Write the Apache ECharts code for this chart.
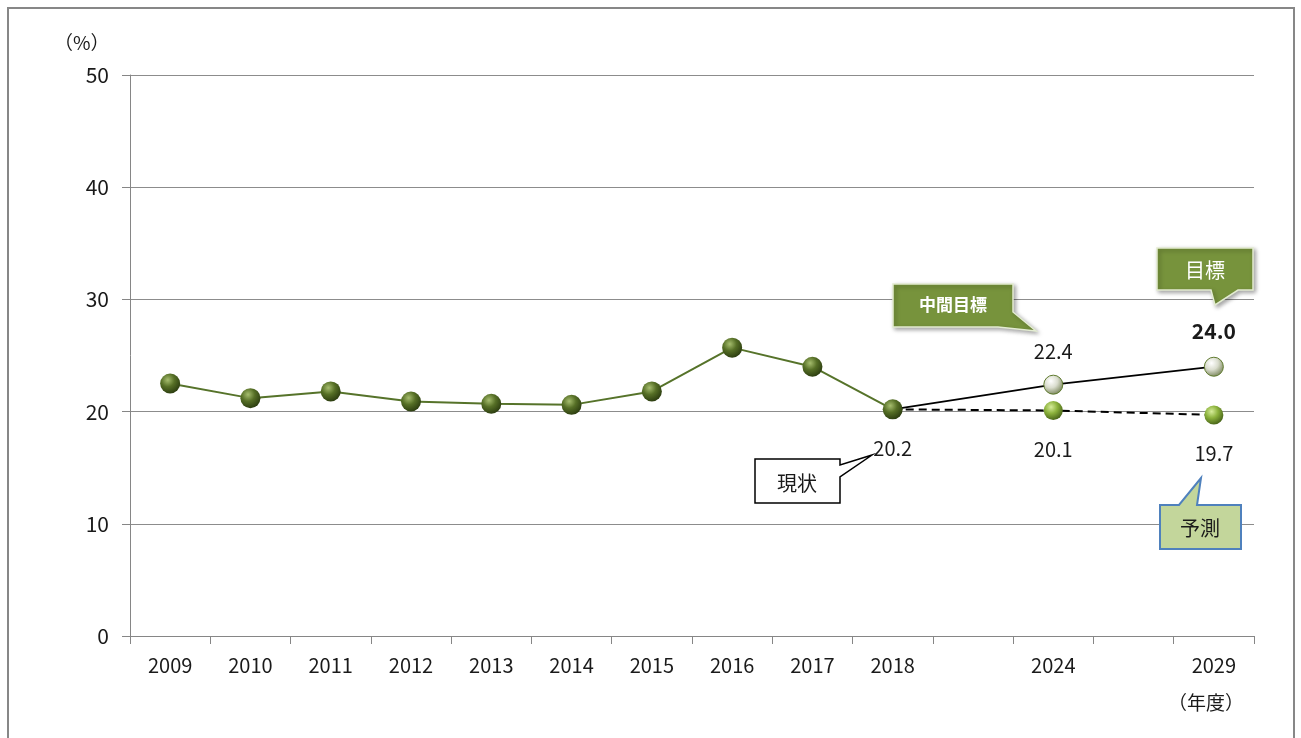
<!DOCTYPE html>
<html>
<head>
<meta charset="utf-8">
<script src="https://cdn.jsdelivr.net/npm/echarts@6/dist/echarts.min.js"></script>
<style>
html,body{margin:0;padding:0;background:#fff;}
#chart{width:1301px;height:738px;}
</style>
</head>
<body>
<div id="chart"></div>
<script>
var years = ['2009','2010','2011','2012','2013','2014','2015','2016','2017','2018','','2024','','2029'];
var actual = [22.5, 21.2, 21.8, 20.9, 20.7, 20.6, 21.8, 25.7, 24.0, 20.2, null, null, null, null];
var target = [null, null, null, null, null, null, null, null, null, 20.2, null, 22.4, null, 24.0];
var forecast = [null, null, null, null, null, null, null, null, null, 20.2, null, 20.1, null, 19.7];
var yTicks = [0, 10, 20, 30, 40, 50];

var FONT = '"Noto Sans CJK JP", "Noto Sans", sans-serif';

function ball(c0, c1, c2) {
  return {
    type: 'radial', x: 0.38, y: 0.32, r: 0.75,
    colorStops: [{offset: 0, color: c0}, {offset: 0.45, color: c1}, {offset: 1, color: c2}]
  };
}

function fmt1(p) {
  return Number(p.value).toFixed(1);
}

var chart = echarts.init(document.getElementById('chart'));

var option = {
  animation: false,
  textStyle: {fontFamily: FONT},
  grid: {left: 130, right: 47, top: 75, bottom: 102},
  xAxis: {
    type: 'category',
    data: years,
    boundaryGap: true,
    axisLine: {lineStyle: {color: '#868686', width: 1}},
    axisTick: {show: true, length: 8, interval: 0, lineStyle: {color: '#868686'}},
    axisLabel: {color: '#1a1a1a', fontSize: 20, margin: 19, interval: 0, fontFamily: FONT}
  },
  yAxis: {
    type: 'value',
    min: yTicks[0],
    max: yTicks[yTicks.length - 1],
    interval: 10,
    axisLine: {show: true, lineStyle: {color: '#868686'}},
    axisTick: {show: true, length: 8, lineStyle: {color: '#868686'}},
    axisLabel: {color: '#1a1a1a', fontSize: 21, margin: 21, fontFamily: FONT},
    splitLine: {lineStyle: {color: '#8c8c8c', width: 1}}
  },
  series: [
    {
      name: 'target',
      type: 'line',
      data: target.map(function (v, i) {
        if (v === null) return null;
        if (i === 9) return {value: v, symbol: 'none', label: {show: false}};
        return {value: v, label: {fontSize: i === 13 ? 21 : 20, fontWeight: i === 13 ? 'bold' : 'normal', distance: i === 13 ? 15 : 13}};
      }),
      connectNulls: true,
      symbol: 'circle',
      symbolSize: 19,
      lineStyle: {color: '#000', width: 1.8},
      itemStyle: {color: ball('#ffffff', '#d9dccd', '#6d7a4c'), borderColor: '#5f7a2e', borderWidth: 1},
      label: {show: true, position: 'top', color: '#1a1a1a', fontSize: 20, fontFamily: FONT, formatter: fmt1},
      z: 3
    },
    {
      name: 'forecast',
      type: 'line',
      data: forecast.map(function (v, i) {
        if (v === null) return null;
        if (i === 9) return {value: v, symbol: 'none', label: {show: false}};
        return v;
      }),
      connectNulls: true,
      symbol: 'circle',
      symbolSize: 19,
      lineStyle: {color: '#000', width: 2, type: [8, 5]},
      itemStyle: {color: ball('#d6ec9a', '#8cb23c', '#3f5a14')},
      label: {show: true, position: 'bottom', distance: 19, color: '#1a1a1a', fontSize: 20, fontFamily: FONT, formatter: fmt1},
      z: 3
    },
    {
      name: 'actual',
      type: 'line',
      data: actual.map(function (v, i) {
        if (v === null) return null;
        if (i === 9) return {value: v, label: {show: true}};
        return v;
      }),
      symbol: 'circle',
      symbolSize: 20,
      lineStyle: {color: '#56732a', width: 2},
      itemStyle: {color: ball('#a6bd6e', '#566f26', '#26360d')},
      label: {show: false, position: 'bottom', distance: 19, color: '#1a1a1a', fontSize: 20, fontFamily: FONT, formatter: fmt1},
      z: 4
    }
  ],
  graphic: [
    {type: 'rect', shape: {x: 8, y: 8, width: 1286, height: 760}, style: {fill: 'none', stroke: '#878787', lineWidth: 2}, silent: true},
    {type: 'text', left: 54, top: 33, style: {text: '（%）', fontSize: 19, fill: '#1a1a1a', fontFamily: FONT}},
    {type: 'text', left: 1168, top: 693, style: {text: '（年度）', fontSize: 19, fill: '#1a1a1a', fontFamily: FONT}},
    // 中間目標 callout
    {type: 'polygon', shape: {points: [[893, 284], [1013, 284], [1013, 312], [1036, 331], [998, 327], [893, 327]]},
      style: {fill: '#77933c', stroke: '#e3ecd1', lineWidth: 1.5, shadowBlur: 4, shadowOffsetX: 2, shadowOffsetY: 2, shadowColor: 'rgba(0,0,0,0.35)'}, z: 10},
    {type: 'text', x: 953, y: 305, style: {text: '中間目標', fontSize: 17, fontWeight: 'bold', fill: '#fff', align: 'center', verticalAlign: 'middle', fontFamily: FONT}, z: 11},
    // 目標 callout
    {type: 'polygon', shape: {points: [[1157, 248], [1253, 248], [1253, 290], [1238, 290], [1215, 305], [1211, 290], [1157, 290]]},
      style: {fill: '#77933c', stroke: '#e3ecd1', lineWidth: 1.5, shadowBlur: 4, shadowOffsetX: 2, shadowOffsetY: 2, shadowColor: 'rgba(0,0,0,0.35)'}, z: 10},
    {type: 'text', x: 1205, y: 270, style: {text: '目標', fontSize: 20, fill: '#fff', align: 'center', verticalAlign: 'middle', fontFamily: FONT}, z: 11},
    // 予測 callout
    {type: 'polygon', shape: {points: [[1160, 505], [1179, 505], [1201, 478], [1197, 505], [1241, 505], [1241, 549], [1160, 549]]},
      style: {fill: '#c3d69b', stroke: '#4f81bd', lineWidth: 2}, z: 10},
    {type: 'text', x: 1200, y: 528, style: {text: '予測', fontSize: 20, fill: '#1a1a1a', align: 'center', verticalAlign: 'middle', fontFamily: FONT}, z: 11},
    // 現状 callout
    {type: 'polygon', shape: {points: [[755, 459], [840, 459], [840, 465], [872, 455], [840, 477], [840, 503], [755, 503]]},
      style: {fill: '#fff', stroke: '#000', lineWidth: 1.5}, z: 10},
    {type: 'text', x: 797, y: 483, style: {text: '現状', fontSize: 20, fill: '#1a1a1a', align: 'center', verticalAlign: 'middle', fontFamily: FONT}, z: 11}
  ]
};

chart.setOption(option);
</script>
</body>
</html>
